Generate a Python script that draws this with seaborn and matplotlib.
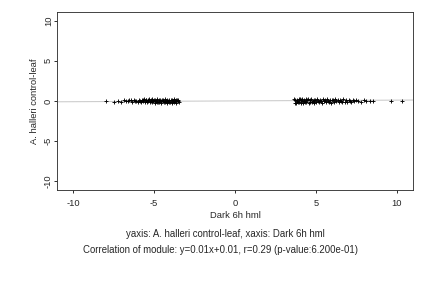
import matplotlib
matplotlib.use("Agg")
import matplotlib.pyplot as plt
import seaborn as sns
import pandas as pd

left_x = [-7.95, -7.48, -7.22, -7.05, -6.88, -6.74, -6.61, -6.52, -6.43, -6.35,
          -6.27, -6.18, -6.09, -6.02, -5.94, -5.87, -5.81, -5.76, -5.70, -5.66,
          -5.61, -5.57, -5.52, -5.48, -5.44, -5.39, -5.35, -5.31, -5.27, -5.22,
          -5.18, -5.14, -5.10, -5.06, -5.01, -4.97, -4.93, -4.89, -4.85, -4.81,
          -4.76, -4.72, -4.68, -4.64, -4.60, -4.55, -4.51, -4.47, -4.43, -4.39,
          -4.34, -4.30, -4.26, -4.22, -4.18, -4.13, -4.09, -4.05, -4.01, -3.97,
          -3.92, -3.88, -3.84, -3.80, -3.76, -3.71, -3.67, -3.63, -3.59, -3.55,
          -3.50, -3.46]
left_y = [-0.05, -0.12, 0.02, -0.08, 0.10, 0.05, -0.03, 0.15, 0.08, -0.10,
          0.12, -0.02, 0.06, -0.07, 0.18, 0.03, -0.12, 0.09, 0.14, -0.05,
          0.20, -0.15, 0.07, 0.11, -0.09, 0.16, -0.04, 0.22, -0.18, 0.05,
          0.13, -0.11, 0.19, -0.06, 0.08, -0.20, 0.15, 0.02, -0.14, 0.21,
          -0.08, 0.10, -0.17, 0.12, 0.04, -0.22, 0.17, -0.03, 0.09, -0.13,
          0.23, -0.07, 0.06, -0.19, 0.14, 0.01, -0.16, 0.18, -0.10, 0.07,
          -0.24, 0.11, 0.03, -0.12, 0.20, -0.05, 0.15, -0.21, 0.08, -0.02,
          0.12, -0.09]
right_x = [3.65, 3.69, 3.73, 3.77, 3.81, 3.85, 3.89, 3.93, 3.97, 4.01,
           4.05, 4.09, 4.13, 4.17, 4.21, 4.25, 4.29, 4.33, 4.37, 4.41,
           4.46, 4.51, 4.56, 4.61, 4.66, 4.71, 4.76, 4.81, 4.86, 4.91,
           4.96, 5.01, 5.07, 5.13, 5.19, 5.25, 5.31, 5.37, 5.43, 5.49,
           5.55, 5.61, 5.67, 5.73, 5.79, 5.85, 5.92, 5.99, 6.06, 6.13,
           6.20, 6.27, 6.34, 6.41, 6.48, 6.55, 6.62, 6.70, 6.78, 6.86,
           6.94, 7.02, 7.10, 7.19, 7.28, 7.37, 7.46, 7.62, 7.80, 7.95,
           8.12, 8.35, 8.55, 9.65, 10.30]
right_y = [0.25, -0.20, 0.10, -0.28, 0.18, 0.05, -0.15, 0.30, -0.10, 0.22,
           -0.25, 0.12, 0.28, -0.05, -0.22, 0.15, 0.02, -0.18, 0.24, -0.12,
           0.08, 0.20, -0.26, 0.14, -0.08, 0.26, -0.15, 0.04, 0.18, -0.20,
           0.10, -0.12, 0.22, 0.00, -0.18, 0.16, 0.06, -0.24, 0.20, -0.06,
           0.12, -0.16, 0.24, 0.02, -0.10, 0.18, -0.20, 0.08, 0.14, -0.14,
           0.20, -0.04, 0.10, -0.18, 0.16, 0.04, -0.12, 0.22, -0.08, 0.12,
           -0.16, 0.18, 0.06, -0.10, 0.14, -0.06, 0.10, 0.02, -0.08, 0.12,
           0.04, -0.06, 0.00, 0.02, -0.04]

slope = 0.01
intercept = 0.01
ticks = [-10, -5, 0, 5, 10]

xlabel = "Dark 6h hml"
ylabel = "A. halleri control-leaf"
caption1 = "yaxis: A. halleri control-leaf, xaxis: Dark 6h hml"
caption2 = "Correlation of module: y=0.01x+0.01, r=0.29 (p-value:6.200e-01)"

sns.set_theme(style="ticks")
plt.rcParams['font.family'] = ['Liberation Sans', 'DejaVu Sans']
FS = 9.4

df = pd.DataFrame({"x": left_x + right_x, "y": left_y + right_y})

fig = plt.figure(figsize=(6, 4), dpi=72)
ax = fig.add_axes([57/432, 1-190/288, (413-57)/432, (190-12)/288])

ax.axline((0, intercept), slope=slope, color="#c8c8c8", lw=1.0, zorder=1)
sns.scatterplot(data=df, x="x", y="y", marker="+", color="black", s=20,
                linewidth=0.9, ax=ax, zorder=2)

ax.set_xlim(-11, 11)
ax.set_ylim(-11.1, 11.1)
ax.set_xticks(ticks)
ax.set_yticks(ticks)
ax.set_xticklabels([str(t) for t in ticks], fontsize=FS)
ax.set_yticklabels([str(t) for t in ticks], fontsize=FS, rotation=90, va="center")
ax.tick_params(axis="both", length=3, width=0.8, color="black")
ax.tick_params(axis="x", pad=6)
ax.tick_params(axis="y", pad=1)
for s in ax.spines.values():
    s.set_visible(True)
    s.set_color("#333333")
    s.set_linewidth(0.9)
ax.set_xlabel(xlabel, fontsize=FS, labelpad=3)
ax.set_ylabel(ylabel, fontsize=FS, labelpad=5)

fig.text(126/432, 1-234/288, caption1, ha="left", va="center", fontsize=9.6)
fig.text(83/432, 1-250/288, caption2, ha="left", va="center", fontsize=9.6)

fig.savefig("out.png", dpi=72, facecolor="white")
